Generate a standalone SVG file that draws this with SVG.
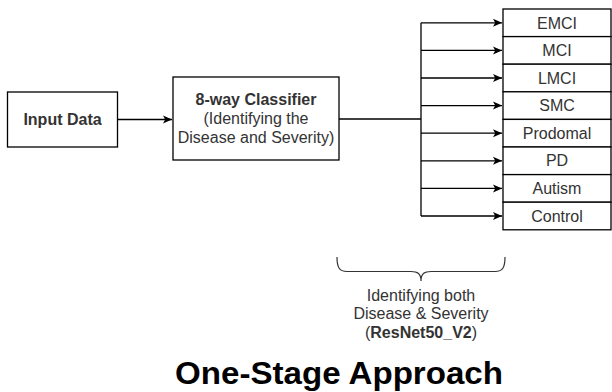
<svg xmlns="http://www.w3.org/2000/svg" width="612" height="392" viewBox="0 0 612 392">
<style>
.box{fill:#fff;stroke:#000;stroke-width:1.3}
.t{font-family:"Liberation Sans",Arial,sans-serif;font-size:16px;fill:#333;text-anchor:middle}
.b{font-weight:bold}
.c{fill:none;stroke:#000;stroke-width:1.3}
</style>
<defs>
<marker id="ah" markerUnits="userSpaceOnUse" markerWidth="10" markerHeight="10" refX="9" refY="4.5" orient="auto">
<path d="M0,0.5 L9,4.5 L0,8.5 L2.2,4.5 Z" fill="#000"/>
</marker>
</defs>
<g id="connectors">
<line class="c" x1="117" y1="119.5" x2="172" y2="119.5" marker-end="url(#ah)"/>
<polyline class="c" points="339,119 421,119"/>
<line class="c" x1="421" y1="22.8" x2="421" y2="216"/>
<line class="c" x1="421" y1="22.8" x2="502" y2="22.8" marker-end="url(#ah)"/>
<line class="c" x1="421" y1="50.4" x2="502" y2="50.4" marker-end="url(#ah)"/>
<line class="c" x1="421" y1="78" x2="502" y2="78" marker-end="url(#ah)"/>
<line class="c" x1="421" y1="105.6" x2="502" y2="105.6" marker-end="url(#ah)"/>
<line class="c" x1="421" y1="133.2" x2="502" y2="133.2" marker-end="url(#ah)"/>
<line class="c" x1="421" y1="160.8" x2="502" y2="160.8" marker-end="url(#ah)"/>
<line class="c" x1="421" y1="188.4" x2="502" y2="188.4" marker-end="url(#ah)"/>
<line class="c" x1="421" y1="216" x2="502" y2="216" marker-end="url(#ah)"/>
</g>
<g id="input">
<rect class="box" x="7.5" y="92" width="110" height="55"/>
<text class="t b" x="62.5" y="125">Input Data</text>
</g>
<g id="classifier">
<rect class="box" x="173" y="77" width="166" height="83"/>
<text class="t b" x="256" y="105">8-way Classifier</text>
<text class="t" x="256" y="124">(Identifying the</text>
<text class="t" x="256" y="143">Disease and Severity)</text>
</g>
<g id="emci"><rect class="box" x="503" y="9" width="108" height="27.6"/><text class="t" x="557" y="28.5">EMCI</text></g>
<g id="mci"><rect class="box" x="503" y="36.6" width="108" height="27.6"/><text class="t" x="557" y="56">MCI</text></g>
<g id="lmci"><rect class="box" x="503" y="64.2" width="108" height="27.6"/><text class="t" x="557" y="83.6">LMCI</text></g>
<g id="smc"><rect class="box" x="503" y="91.8" width="108" height="27.6"/><text class="t" x="557" y="111.2">SMC</text></g>
<g id="prodomal"><rect class="box" x="503" y="119.4" width="108" height="27.6"/><text class="t" x="557" y="138.8">Prodomal</text></g>
<g id="pd"><rect class="box" x="503" y="147" width="108" height="27.6"/><text class="t" x="557" y="166.4">PD</text></g>
<g id="autism"><rect class="box" x="503" y="174.6" width="108" height="27.6"/><text class="t" x="557" y="194">Autism</text></g>
<g id="control"><rect class="box" x="503" y="202.2" width="108" height="27.6"/><text class="t" x="557" y="221.6">Control</text></g>
<g id="brace">
<path d="M337,257 C337,267 339,271.5 347,271.5 L411,271.5 C417,271.5 421,273 421,281 C421,273 425,271.5 431,271.5 L495,271.5 C503,271.5 505,267 505,257" fill="none" stroke="#333" stroke-width="1.2"/>
<text class="t" x="421" y="300.5">Identifying both</text>
<text class="t" x="421" y="319">Disease &amp; Severity</text>
<text class="t" x="421" y="337.5">(<tspan class="b">ResNet50_V2</tspan>)</text>
</g>
<g id="title">
<text class="t b" x="175" y="384" textLength="328" lengthAdjust="spacingAndGlyphs" style="font-size:31px;fill:#000;text-anchor:start">One-Stage Approach</text>
</g>
</svg>
